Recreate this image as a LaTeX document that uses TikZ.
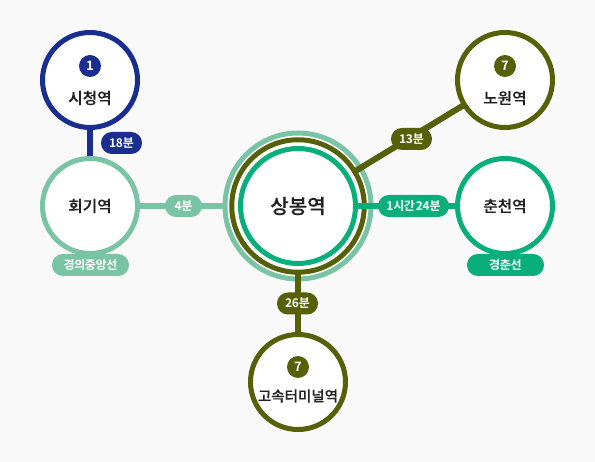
\documentclass[tikz,border=0pt]{standalone}
\usepackage{fontspec}
\setmainfont{Noto Sans CJK KR Medium}[BoldFont={Noto Sans CJK KR Bold}]
\newfontfamily\pillfont{Noto Sans CJK KR Bold}[LetterSpace=-2.5]
\newfontfamily\stnfont{Noto Sans CJK KR Medium}[FakeBold=0.15]
\definecolor{bgc}{HTML}{F9F9F9}
\definecolor{navy}{HTML}{1A2E8F}
\definecolor{mint}{HTML}{7AC4A6}
\definecolor{olive}{HTML}{556008}
\definecolor{emer}{HTML}{08AF7B}
\definecolor{ink}{HTML}{222222}
\tikzset{
  stn/.style={circle,draw=#1,line width=5pt,fill=white,minimum size=95pt,inner sep=0pt,outer sep=0pt,text=ink,font=\stnfont\fontsize{15.7}{18}\selectfont,align=center},
  conn/.style={draw=#1,line width=6pt},
  pill/.style={rounded corners=10.9pt,fill=#1,text=white,minimum height=22pt,inner sep=0pt,outer sep=0pt,font=\pillfont\fontsize{12}{14}\selectfont},
  badge/.style={circle,fill=#1,text=white,minimum size=22pt,inner sep=0pt,font=\fontsize{13}{14}\selectfont\bfseries},
  ring/.style={circle,draw=#1,fill=white,inner sep=0pt,outer sep=0pt},
  lab/.style={text=ink,font=\stnfont\fontsize{15.7}{18}\selectfont},
}
\begin{document}
\begin{tikzpicture}[x=1pt,y=-1pt]
\useasboundingbox[fill=bgc] (0,0) rectangle (595,462);
% central rings
\node[ring=mint,line width=5pt,minimum size=146pt] (ringa) at (298,206) {};
\node[ring=olive,line width=5pt,minimum size=132.5pt] (ringb) at (298,206) {};
\coordinate (csi) at (90,80);
\coordinate (choe) at (90,206);
\coordinate (cno) at (505,80);
\coordinate (cchun) at (505,206);
\coordinate (cgo) at (298,382);
\coordinate (csang) at (298,206);
\path[conn=navy] (csi) -- (choe);
\path[conn=mint] (choe) -- (ringa);
\path[conn=olive] (cno) -- (ringb);
\path[conn=olive] (cgo) -- (ringb);
\path[conn=emer] (cchun) -- (csang);
\node[stn=navy] (si) at (csi) {};
\node[stn=mint] (hoe) at (choe) {\raisebox{-1pt}{회기역}};
\node[stn=olive] (no) at (cno) {};
\node[stn=emer] (chun) at (cchun) {\raisebox{-1pt}{춘천역}};
\node[stn=olive] (go) at (cgo) {};
\node[stn=emer,minimum size=115pt,font=\stnfont\fontsize{20}{24}\selectfont] (sang) at (csang) {상봉역};
\node[badge=navy] (b1) at (90,66) {1};
\node[badge=olive] (b2) at (505,66) {7};
\node[badge=olive] (b3) at (298,367) {7};
\node[lab] (t1) at (90,98) {시청역};
\node[lab] (t2) at (505,98) {노원역};
\node[lab,font=\stnfont\fontsize{14.5}{18}\selectfont] (t3) at (298,396) {고속터미널역};
\node[pill=navy,minimum width=41pt] (p1) at (121.5,143) {18분};
\node[pill=mint,minimum width=37pt] (p2) at (183.5,206) {4분};
\node[pill=olive,minimum width=41pt] (p3) at (411.5,139) {13분};
\node[pill=emer,minimum width=71pt] (p4) at (413.5,206) {1시간\kern-1.5pt{} 24분};
\node[pill=olive,minimum width=41pt] (p5) at (297.5,303.5) {26분};
\node[pill=mint,minimum width=77pt] (p6) at (90.5,265) {경의중앙선};
\node[pill=emer,minimum width=77pt] (p7) at (505.5,265) {경춘선};
\end{tikzpicture}
\end{document}
